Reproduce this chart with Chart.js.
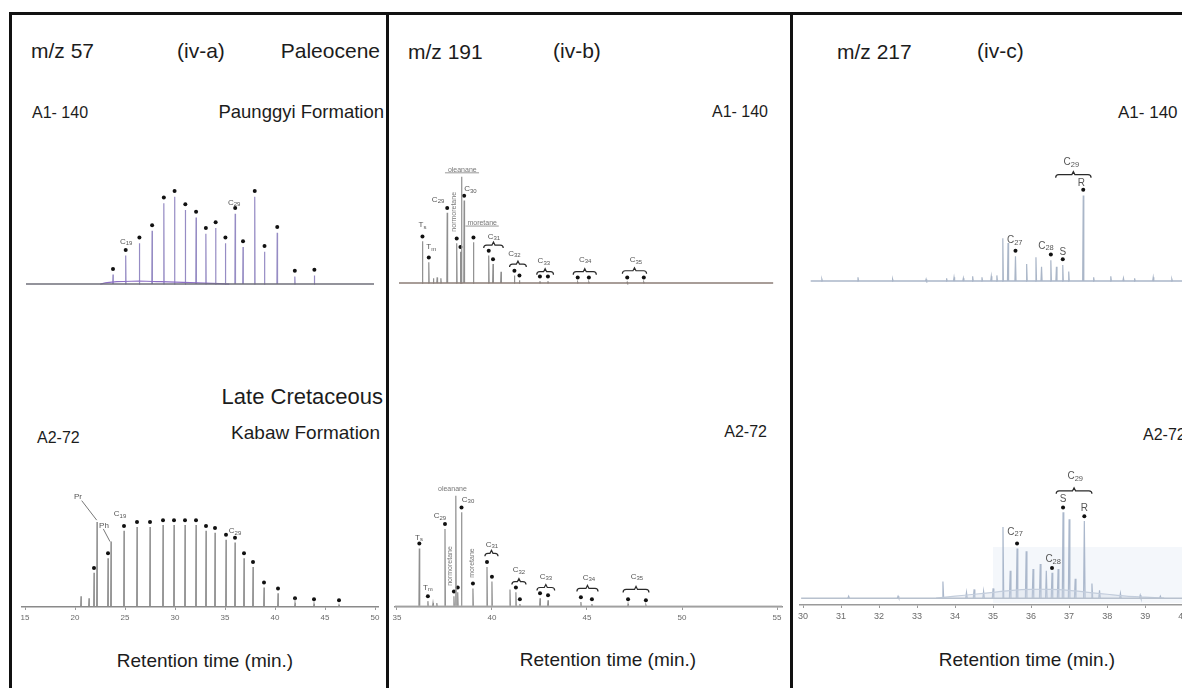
<!DOCTYPE html>
<html>
<head>
<meta charset="utf-8">
<script src="https://cdn.jsdelivr.net/npm/chart.js@4.4.0/dist/chart.umd.min.js"></script>
<style>
  html, body { margin: 0; padding: 0; background: #fff; }
  body { width: 1182px; height: 688px; position: relative; overflow: hidden;
         font-family: "Liberation Sans", Arial, sans-serif; color: #1c1c1c; }
  .t { position: absolute; white-space: nowrap; line-height: 1; }
  .c { transform: translateX(-50%); }
  .rule { position: absolute; background: #111; }
  .plot { position: absolute; }
  .haze { position: absolute; background: #f4f7fb; }
</style>
</head>
<body>

<!-- frame -->
<div class="rule" style="left:9px;top:12px;width:1173px;height:3px"></div>
<div class="rule" style="left:9px;top:12px;width:3px;height:676px"></div>
<div class="rule" style="left:386px;top:12px;width:3px;height:676px"></div>
<div class="rule" style="left:790px;top:12px;width:3px;height:676px"></div>

<div class="haze" style="left:993px;top:547px;width:189px;height:56px"></div>

<!-- m/z 57 -->
<div class="t" style="left:31px;top:40px;font-size:21px">m/z 57</div>
<div class="t" style="left:177px;top:40px;font-size:21px">(iv-a)</div>
<div class="t" style="right:802px;top:40px;font-size:21px">Paleocene</div>
<div class="t" style="left:32px;top:105px;font-size:16px">A1- 140</div>
<div class="t" style="right:798px;top:103px;font-size:18.5px">Paunggyi Formation</div>
<div class="t" style="right:799px;top:386px;font-size:22px">Late Cretaceous</div>
<div class="t" style="right:802px;top:423px;font-size:19px">Kabaw Formation</div>
<div class="t" style="left:37px;top:430px;font-size:16px">A2-72</div>
<div class="t c" style="left:205px;top:651px;font-size:19px">Retention time (min.)</div>

<!-- m/z 191 -->
<div class="t" style="left:408px;top:41px;font-size:21px">m/z 191</div>
<div class="t" style="left:553px;top:40px;font-size:21px">(iv-b)</div>
<div class="t" style="right:414px;top:104px;font-size:16px">A1- 140</div>
<div class="t" style="right:415px;top:424px;font-size:16px">A2-72</div>
<div class="t c" style="left:608px;top:650px;font-size:19px">Retention time (min.)</div>

<!-- m/z 217 -->
<div class="t" style="left:837px;top:41px;font-size:21px">m/z 217</div>
<div class="t" style="left:977px;top:40px;font-size:21px">(iv-c)</div>
<div class="t" style="left:1118px;top:104px;font-size:17px">A1- 140</div>
<div class="t" style="left:1143px;top:427px;font-size:16px">A2-72</div>
<div class="t c" style="left:1027px;top:650px;font-size:19px">Retention time (min.)</div>

<div class="plot" style="left:22px;top:128px"><canvas id="a1" width="356" height="162"></canvas></div>
<div class="plot" style="left:12px;top:440px"><canvas id="a2" width="376" height="200"></canvas></div>
<div class="plot" style="left:395px;top:127px"><canvas id="b1" width="387" height="162"></canvas></div>
<div class="plot" style="left:385px;top:440px"><canvas id="b2" width="407" height="200"></canvas></div>
<div class="plot" style="left:800px;top:125px"><canvas id="c1" width="390" height="162"></canvas></div>
<div class="plot" style="left:790px;top:440px"><canvas id="c2" width="410" height="198"></canvas></div>

<script>
const FONT = '"Liberation Sans", Arial, sans-serif';

// m/z 57 — n-alkanes, A1-140
const a1Rt = [23.6, 24.9, 26.3, 27.6, 28.8, 29.9, 31.0, 32.1, 33.1, 34.1, 35.1, 36.1, 36.9, 38.1, 39.1, 40.4, 42.2, 44.2];
const a1Ab = [10, 30, 43, 56, 85, 92, 78, 70, 53, 59, 43, 74, 39, 92, 34, 54, 8, 9];
const a1UcmRt = [22.3, 23, 24, 25.5, 27, 28.5, 30, 31.5, 33, 34.5, 35.5];
const a1UcmAb = [0, 1.5, 2.5, 3, 3, 2.5, 2, 1.5, 1, 0.5, 0];
const a1Labels = [['C_19', 24.95, 45], ['C_29', 36.0, 86]];

// m/z 57 — n-alkanes and isoprenoids, A2-72
const a2Rt = [21.9, 23.3, 24.9, 26.2, 27.5, 28.8, 29.9, 31.0, 32.1, 33.1, 34.0, 35.1, 36.0, 36.9, 37.8, 38.9, 40.3, 42.0, 43.9, 46.4];
const a2Ab = [34, 49, 77, 81, 81, 83, 83, 83, 83, 77, 75, 68, 65, 49, 40, 19, 13, 3, 2, 1];
const a2IsoRt = [20.6, 21.4, 22.2, 23.6];
const a2IsoAb = [10, 8, 86, 66];
const a2Labels = [['Pr', 20.3, 112], ['Ph', 22.9, 82], ['C_19', 24.5, 94], ['C_29', 36.0, 77]];
const a2Leaders = [[20.67, 108, 22.17, 88], [22.83, 79, 23.5, 66]];
const ticks57 = [15, 20, 25, 30, 35, 40, 45, 50];

// m/z 191 — terpanes, A1-140
const b1Rt = [36.16, 36.5, 36.75, 36.95, 37.15, 37.49, 38.0, 38.2, 38.26, 38.4, 38.9, 39.72, 39.95, 40.38, 41.1, 41.37, 42.47, 42.9, 44.5, 45.1, 47.16, 48.05];
const b1Ab = [44, 22, 5, 6, 5, 74, 42, 33, 112, 87, 43, 29, 20, 12, 8, 3, 2, 2, 1, 1, 1, 1];
const b1Marked = [0, 1, 5, 6, 7, 9, 10, 11, 12, 14, 15, 16, 17, 18, 19, 20, 21];
const b1Labels = [['T_s', 36.16, 61], ['T_m', 36.63, 38], ['C_29', 37.0, 88], ['C_30', 38.74, 99], ['C_31', 40.0, 49],
                  ['C_32', 41.1, 31], ['C_33', 42.68, 23], ['C_34', 44.9, 25], ['C_35', 47.63, 24]];
const b1Braces = [[39.45, 40.5, 40], [40.84, 41.74, 20], [42.3, 43.2, 12], [44.26, 45.5, 12], [46.9, 48.2, 13]];
const b1Words = [['oleanane', 38.3, 119, 0], ['moretane', 39.37, 63, 0], ['normoretane', 37.84, 75, -90]];
const b1Bars = [[37.37, 39.2, 116], [38.47, 40.26, 60]];

// m/z 191 — terpanes, A2-72
const b2Rt = [36.18, 36.63, 36.9, 37.1, 37.53, 38.0, 38.1, 38.2, 38.4, 39.0, 39.74, 40.0, 40.95, 41.26, 41.47, 42.53, 42.95, 44.68, 45.26, 47.16, 48.1];
const b2Ab = [59, 5, 3, 3, 79, 10, 113, 14, 96, 18, 40, 25, 17, 14, 2, 8, 6, 4, 2, 2, 1];
const b2Marked = [0, 1, 4, 5, 7, 8, 9, 10, 11, 13, 14, 15, 16, 17, 18, 19, 20];
const b2Labels = [['T_s', 36.16, 70], ['T_m', 36.63, 19], ['C_29', 37.26, 92], ['C_30', 38.74, 109], ['C_31', 40.0, 63],
                  ['C_32', 41.42, 37], ['C_33', 42.84, 30], ['C_34', 45.1, 29], ['C_35', 47.63, 30]];
const b2Braces = [[39.63, 40.32, 54], [41.05, 41.79, 25], [42.37, 43.3, 19], [44.47, 45.58, 18], [46.9, 48.26, 17]];
const b2Words = [['oleanane', 37.92, 120, 0], ['normoretane', 37.79, 41, -90], ['moretane', 38.95, 44, -90]];
const ticks191 = [35, 40, 45, 50, 55];

// m/z 217 — steranes, A1-140
const c1Rt = [30.4, 31.37, 32.3, 33.2, 33.75, 33.95, 34.2, 34.45, 34.7, 34.95, 35.1, 35.26, 35.4, 35.6, 35.9, 36.15, 36.3, 36.55, 36.7, 36.87, 37.03, 37.42, 37.7, 38.16, 38.5, 38.8, 39.3, 39.8];
const c1Ab = [2, 4, 2, 2, 3, 4, 3, 5, 4, 5, 6, 45, 40, 26, 18, 25, 15, 22, 15, 17, 10, 90, 4, 5, 3, 3, 4, 2];
const c1Marked = [13, 17, 19, 21];
const c1Labels = [['C_27', 35.58, 43], ['C_28', 36.42, 37], ['S', 36.87, 30], ['R', 37.37, 103], ['C_29', 37.1, 125]];
const c1Braces = [[36.68, 37.63, 112]];

// m/z 217 — steranes, A2-72
const c2Rt = [31.2, 32.5, 33.68, 34.3, 34.5, 34.75, 35.0, 35.26, 35.45, 35.63, 35.87, 36.05, 36.24, 36.4, 36.55, 36.71, 36.84, 37.0, 37.16, 37.4, 37.6, 37.8, 38.35, 38.87, 39.4];
const c2Ab = [2, 2, 17, 6, 9, 7, 10, 73, 28, 51, 48, 30, 35, 28, 26, 30, 88, 81, 20, 79, 15, 8, 5, 3, 2];
const c2Marked = [9, 14, 16, 19];
const c2HumpRt = [33.5, 34, 34.5, 35, 35.5, 36, 36.5, 37, 37.5, 38, 38.5, 39, 39.5];
const c2HumpAb = [0, 2, 4, 6, 8, 9, 9, 8, 6, 4, 2, 1, 0];
const c2Labels = [['C_27', 35.58, 68], ['C_28', 36.58, 40], ['S', 36.84, 101], ['R', 37.4, 92], ['C_29', 37.16, 125]];
const c2Braces = [[36.66, 37.6, 110]];
const ticks217 = [30, 31, 32, 33, 34, 35, 36, 37, 38, 39, 40];

// each peak becomes a thin triangle, separated by gaps
function spikes(rt, ab, w) {
  const pts = [];
  rt.forEach((t, i) => {
    pts.push({ x: t - w, y: 0 }, { x: t, y: ab[i] }, { x: t + w, y: 0 }, { x: t + w, y: null });
  });
  return pts;
}

function marks(rt, ab, idx, gap) {
  return idx.map(i => ({ x: rt[i], y: ab[i] + gap }));
}

function curve(rt, ab) {
  return rt.map((t, i) => ({ x: t, y: ab[i] }));
}

// C_29 -> "C" with subscript "29"
function subText(ctx, txt, cx, cy, size) {
  const [base, sub] = txt.split('_');
  ctx.font = size + 'px ' + FONT;
  const wb = ctx.measureText(base).width;
  let ws = 0;
  if (sub) { ctx.font = (size * 0.75) + 'px ' + FONT; ws = ctx.measureText(sub).width; }
  const x0 = cx - (wb + ws) / 2;
  ctx.textAlign = 'left';
  ctx.textBaseline = 'middle';
  ctx.font = size + 'px ' + FONT;
  ctx.fillText(base, x0, cy);
  if (sub) {
    ctx.font = (size * 0.75) + 'px ' + FONT;
    ctx.fillText(sub, x0 + wb, cy + size * 0.25);
  }
}

function notes(cfg) {
  return {
    id: 'notes',
    afterDatasetsDraw(chart) {
      const { ctx, scales: { x, y } } = chart;
      ctx.save();
      ctx.fillStyle = cfg.color;
      (cfg.labels || []).forEach(([txt, t, v]) =>
        subText(ctx, txt, x.getPixelForValue(t), y.getPixelForValue(v), cfg.size));

      ctx.strokeStyle = '#2a2a2a';
      ctx.lineWidth = 1.2;
      (cfg.braces || []).forEach(([t0, t1, v]) => {
        const p0 = x.getPixelForValue(t0), p1 = x.getPixelForValue(t1), py = y.getPixelForValue(v);
        const m = (p0 + p1) / 2;
        ctx.beginPath();
        ctx.moveTo(p0, py + 3);
        ctx.quadraticCurveTo(p0, py, p0 + 3, py);
        ctx.lineTo(m - 1.5, py);
        ctx.lineTo(m, py - 3);
        ctx.lineTo(m + 1.5, py);
        ctx.lineTo(p1 - 3, py);
        ctx.quadraticCurveTo(p1, py, p1, py + 3);
        ctx.stroke();
      });

      ctx.strokeStyle = '#777';
      ctx.lineWidth = 1;
      (cfg.leaders || []).forEach(([t0, v0, t1, v1]) => {
        ctx.beginPath();
        ctx.moveTo(x.getPixelForValue(t0), y.getPixelForValue(v0));
        ctx.lineTo(x.getPixelForValue(t1), y.getPixelForValue(v1));
        ctx.stroke();
      });
      ctx.strokeStyle = '#999';
      (cfg.bars || []).forEach(([t0, t1, v]) => {
        const py = y.getPixelForValue(v);
        ctx.beginPath();
        ctx.moveTo(x.getPixelForValue(t0), py);
        ctx.lineTo(x.getPixelForValue(t1), py);
        ctx.stroke();
      });

      ctx.fillStyle = '#777';
      ctx.font = '7px ' + FONT;
      ctx.textAlign = 'center';
      ctx.textBaseline = 'middle';
      (cfg.words || []).forEach(([txt, t, v, rot]) => {
        ctx.save();
        ctx.translate(x.getPixelForValue(t), y.getPixelForValue(v));
        ctx.rotate(rot * Math.PI / 180);
        ctx.fillText(txt, 0, 0);
        ctx.restore();
      });
      ctx.restore();
    }
  };
}

function panel(id, o) {
  const datasets = [];
  if (o.base) datasets.push({ data: [{ x: o.base[0], y: 0 }, { x: o.base[1], y: 0 }], showLine: true,
    borderColor: o.baseColor, borderWidth: o.baseWidth || 1.5, pointRadius: 0 });
  if (o.hump) datasets.push({ data: o.hump, showLine: true, borderColor: o.humpColor, borderWidth: 1.2,
    backgroundColor: o.humpFill || 'rgba(0,0,0,0)', fill: !!o.humpFill, pointRadius: 0, tension: 0.3 });
  o.traces.forEach(tr => datasets.push({ data: tr, showLine: true, spanGaps: false,
    borderColor: o.color, borderWidth: o.lineWidth || 1.2, pointRadius: 0 }));
  datasets.push({ data: o.dots, showLine: false, pointRadius: 2, pointBackgroundColor: '#111', pointBorderWidth: 0 });

  const x = { type: 'linear', min: o.xmin, max: o.xmax, display: !!o.ticks };
  if (o.ticks) Object.assign(x, {
    afterBuildTicks: s => { s.ticks = o.ticks.map(v => ({ value: v })); },
    afterFit: s => { s.height = o.axisH; },
    grid: { drawOnChartArea: false, drawTicks: true, tickLength: 3, color: '#9a9a9a' },
    border: { display: true, color: o.axisColor, width: 1.5 },
    ticks: { font: { family: FONT, size: o.tickSize }, color: '#6a6a6a', padding: 3, maxRotation: 0, autoSkip: false }
  });

  return new Chart(document.getElementById(id), {
    type: 'scatter',
    data: { datasets },
    options: {
      responsive: false,
      animation: false,
      events: [],
      layout: { padding: o.ticks ? { left: 10, right: 10, top: 0, bottom: 0 } : 0 },
      plugins: { legend: { display: false }, tooltip: { enabled: false } },
      scales: { x, y: { display: false, min: o.ymin, max: o.ymax } }
    },
    plugins: [notes(o.notes)]
  });
}

panel('a1', {
  xmin: 14.7, xmax: 50.3, ymin: -2, ymax: 160,
  base: [14.7, 50.3], baseColor: '#6f6f7a',
  hump: curve(a1UcmRt, a1UcmAb), humpColor: '#8e70c6',
  traces: [spikes(a1Rt, a1Ab, 0.03)], color: '#968cc4',
  dots: marks(a1Rt, a1Ab, a1Rt.map((_, i) => i), 6),
  notes: { labels: a1Labels, size: 8, color: '#555' }
});

panel('a2', {
  xmin: 14.7, xmax: 50.3, ymin: -1, ymax: 166,
  ticks: ticks57, axisH: 33, axisColor: '#8a8a8a', tickSize: 8,
  traces: [spikes(a2Rt, a2Ab, 0.03), spikes(a2IsoRt, a2IsoAb, 0.03)], color: '#8c8c8c',
  dots: marks(a2Rt, a2Ab, a2Rt.map((_, i) => i), 5),
  notes: { labels: a2Labels, leaders: a2Leaders, size: 8, color: '#555' }
});

panel('b1', {
  xmin: 34.9, xmax: 55.26, ymin: -2, ymax: 160,
  base: [34.9, 55.0], baseColor: '#8b7d76',
  traces: [spikes(b1Rt, b1Ab, 0.02)], color: '#8f8f8f',
  dots: marks(b1Rt, b1Ab, b1Marked, 5),
  notes: { labels: b1Labels, braces: b1Braces, words: b1Words, bars: b1Bars, size: 8, color: '#555' }
});

panel('b2', {
  xmin: 34.9, xmax: 55.26, ymin: -1, ymax: 166,
  ticks: ticks191, axisH: 33, axisColor: '#8f8f8f', tickSize: 8,
  base: [34.9, 55.26], baseColor: '#b0b0b0', baseWidth: 1,
  traces: [spikes(b2Rt, b2Ab, 0.02)], color: '#8f8f8f',
  dots: marks(b2Rt, b2Ab, b2Marked, 5),
  notes: { labels: b2Labels, braces: b2Braces, words: b2Words, size: 8, color: '#555' }
});

panel('c1', {
  xmin: 29.92, xmax: 40.18, ymin: -2, ymax: 160,
  base: [30.1, 40.18], baseColor: '#aab6c8',
  traces: [spikes(c1Rt, c1Ab, 0.015)], color: '#aab6c8',
  dots: marks(c1Rt, c1Ab, c1Marked, 6),
  notes: { labels: c1Labels, braces: c1Braces, size: 10, color: '#555' }
});

panel('c2', {
  xmin: 29.92, xmax: 40.18, ymin: -7, ymax: 158,
  ticks: ticks217, axisH: 33, axisColor: '#9a9a9a', tickSize: 9,
  base: [29.95, 40.18], baseColor: '#b8c1ce',
  hump: curve(c2HumpRt, c2HumpAb), humpColor: '#c3cddc', humpFill: 'rgba(205,215,230,0.35)',
  traces: [spikes(c2Rt, c2Ab, 0.02)], color: '#abb8cc',
  dots: marks(c2Rt, c2Ab, c2Marked, 5),
  notes: { labels: c2Labels, braces: c2Braces, size: 10, color: '#555' }
});
</script>
</body>
</html>
